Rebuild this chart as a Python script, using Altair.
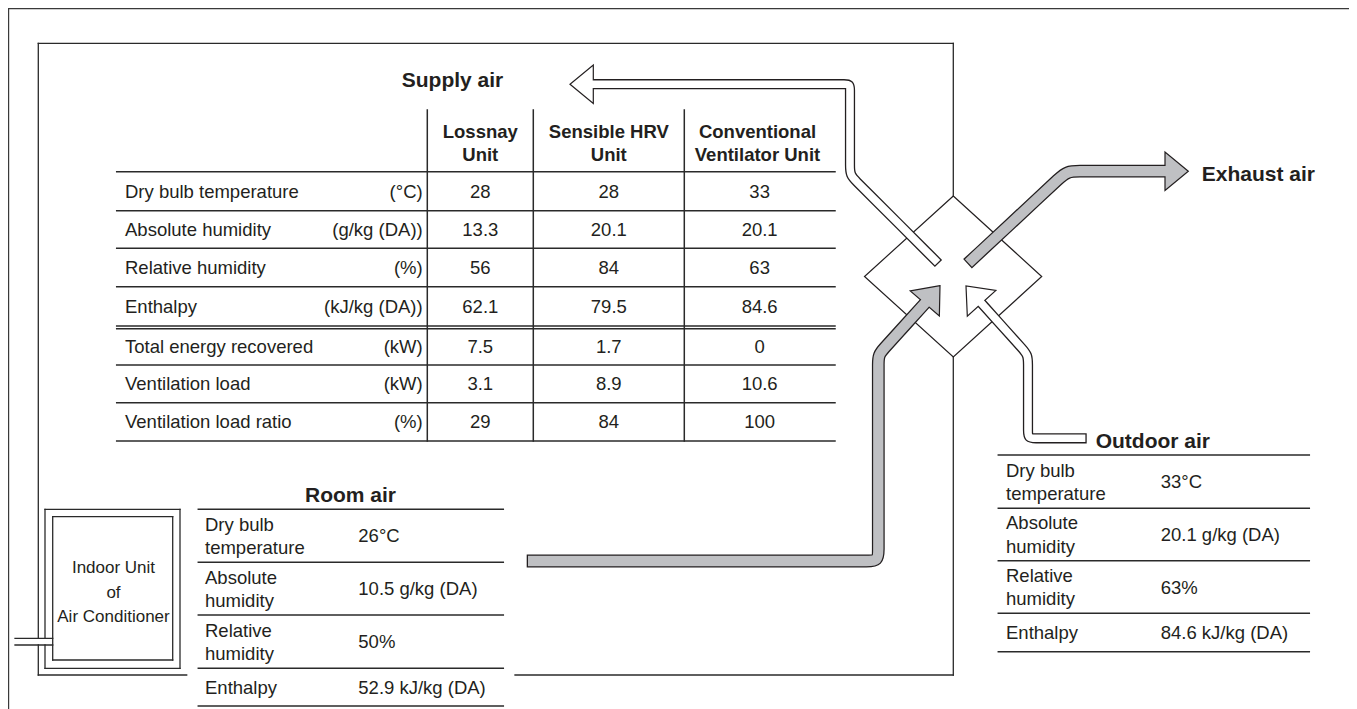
import math
import altair as alt
import pandas as pd

# ---------------- content ----------------
supply_title = "Supply air"
supply_columns = ["Lossnay\nUnit", "Sensible HRV\nUnit", "Conventional\nVentilator Unit"]
supply_rows = ["Dry bulb temperature", "Absolute humidity", "Relative humidity", "Enthalpy",
               "Total energy recovered", "Ventilation load", "Ventilation load ratio"]
supply_units = ["(°C)", "(g/kg (DA))", "(%)", "(kJ/kg (DA))", "(kW)", "(kW)", "(%)"]
lossnay_values = ["28", "13.3", "56", "62.1", "7.5", "3.1", "29"]
sensible_hrv_values = ["28", "20.1", "84", "79.5", "1.7", "8.9", "84"]
conventional_values = ["33", "20.1", "63", "84.6", "0", "10.6", "100"]

room_title = "Room air"
room_labels = ["Dry bulb\ntemperature", "Absolute\nhumidity", "Relative\nhumidity", "Enthalpy"]
room_values = ["26°C", "10.5 g/kg (DA)", "50%", "52.9 kJ/kg (DA)"]

outdoor_title = "Outdoor air"
outdoor_labels = ["Dry bulb\ntemperature", "Absolute\nhumidity", "Relative\nhumidity", "Enthalpy"]
outdoor_values = ["33°C", "20.1 g/kg (DA)", "63%", "84.6 kJ/kg (DA)"]

exhaust_title = "Exhaust air"
indoor_unit_label = "Indoor Unit\nof\nAir Conditioner"

# ---------------- layout (page pixels) ----------------
W, H = 1341, 701
ORG = 8
FONT = "Liberation Sans"
INK = "#231f20"
LINE = "#2a2a2a"
GRAY = "#bfc0c3"

xs = alt.Scale(domain=[ORG, ORG + W], nice=False, zero=False)
ys = alt.Scale(domain=[ORG, ORG + H], nice=False, zero=False, reverse=True)

# supply table
ST_X0, ST_X1 = 116.7, 835.0
ST_COLS = [427.3, 533.3, 684.3]
ST_LINES = [171.7, 210.7, 248.3, 286.7, 326.0, 365.0, 402.7, 441.0]
ST_DOUBLE = 328.7
ST_VTOP = 110.0
# room table
RT_X0, RT_X1 = 198.3, 503.3
RT_LINES = [509.3, 562.3, 615.0, 668.3, 706.0]
RT_LABEL_X, RT_VALUE_X = 205.0, 358.3
# outdoor table
OT_X0, OT_X1 = 998.3, 1309.3
OT_LINES = [455.0, 508.3, 560.7, 613.3, 651.7]
OT_LABEL_X, OT_VALUE_X = 1006.0, 1160.7
# room box
RB_X0, RB_Y0, RB_X1, RB_Y1 = 38.3, 43.3, 953.3, 675.0
# diamond
DIA = [(953.3, 196.0), (1041.7, 276.5), (953.3, 357.0), (864.5, 276.5)]

segs = []
def seg(x, y, x2, y2):
    segs.append(dict(x=x, y=y, x2=x2, y2=y2))

# outer frame (bottom edge is outside the picture)
frame = []
for (x, y, x2, y2) in [(8.6, 8.6, 1350.0, 8.6), (8.6, 8.6, 8.6, 709), (1350.0, 8.6, 1350.0, 709)]:
    frame.append(dict(x=x, y=y, x2=x2, y2=y2))

# room box
seg(RB_X0, RB_Y0, RB_X1, RB_Y0)
seg(RB_X0, RB_Y0, RB_X0, 638.3)
seg(RB_X0, 645.0, RB_X0, RB_Y1)
seg(RB_X1, RB_Y0, RB_X1, DIA[0][1])
seg(RB_X1, DIA[2][1], RB_X1, RB_Y1)
seg(RB_X0, RB_Y1, 186.7, RB_Y1)
seg(515.0, RB_Y1, RB_X1, RB_Y1)
# indoor unit
for (x0, y0, x1, y1) in [(45.0, 509.3, 180.0, 668.3), (52.7, 516.7, 172.7, 660.0)]:
    seg(x0, y0, x1, y0); seg(x0, y1, x1, y1); seg(x1, y0, x1, y1)
    if x0 < 50:
        seg(x0, y0, x0, 638.3); seg(x0, 645.0, x0, y1)
    else:
        seg(x0, y0, x0, y1)
seg(15.0, 638.3, 52.7, 638.3)
seg(15.0, 645.0, 52.7, 645.0)

tseg = []
for yv in ST_LINES + [ST_DOUBLE]:
    tseg.append(dict(x=ST_X0, y=yv, x2=ST_X1, y2=yv))
for xv in ST_COLS:
    tseg.append(dict(x=xv, y=ST_VTOP, x2=xv, y2=ST_LINES[-1]))
for yv in RT_LINES:
    tseg.append(dict(x=RT_X0, y=yv, x2=RT_X1, y2=yv))
for yv in OT_LINES:
    tseg.append(dict(x=OT_X0, y=yv, x2=OT_X1, y2=yv))


def X(f="x"):
    return alt.X(f"{f}:Q", scale=xs, axis=None)


def Y(f="y"):
    return alt.Y(f"{f}:Q", scale=ys, axis=None)


def rule_layer(rows, width, color=LINE):
    return alt.Chart(pd.DataFrame(rows)).mark_rule(strokeWidth=width, color=color, strokeCap="square").encode(
        x=X(), y=Y(), x2="x2:Q", y2="y2:Q")


# ---------------- arrows ----------------
def unit(ax, ay, bx, by):
    dx, dy = bx - ax, by - ay
    L = math.hypot(dx, dy)
    return dx / L, dy / L


def rounded(pts, radii):
    out = [pts[0]]
    for k in range(1, len(pts) - 1):
        (ax, ay), (cx, cy), (bx, by) = pts[k - 1], pts[k], pts[k + 1]
        r = radii[k - 1]
        ux, uy = unit(ax, ay, cx, cy)
        vx, vy = unit(cx, cy, bx, by)
        out += [(cx - 2 * r * ux, cy - 2 * r * uy), (cx - r * ux, cy - r * uy), (cx, cy),
                (cx + r * vx, cy + r * vy), (cx + 2 * r * vx, cy + 2 * r * vy)]
    out.append(pts[-1])
    return out


def trim(pts, tail_cut, head_ext):
    (ax, ay), (bx, by) = pts[0], pts[1]
    ux, uy = unit(ax, ay, bx, by)
    first = (ax + tail_cut * ux, ay + tail_cut * uy)
    (cx, cy), (dx, dy) = pts[-2], pts[-1]
    vx, vy = unit(cx, cy, dx, dy)
    last = (dx + head_ext * vx, dy + head_ext * vy)
    return [first] + pts[1:-1] + [last]


# centre lines, tail -> arrowhead base
supply_path = rounded([(938.5, 263.5), (850.0, 175.0), (850.0, 84.2), (592.7, 84.2)], [10, 6])
outdoor_path = rounded([(1086.7, 438.3), (1028.0, 438.3), (1028.0, 355.0), (980.8, 302.5)], [8, 10])
exhaust_path = rounded([(967.5, 263.8), (1067.0, 171.2), (1165.0, 171.2)], [13])
room_path = rounded([(526.7, 561.0), (878.3, 561.0), (878.3, 354.8), (925.9, 302.2)], [12, 10])

# arrowhead tips and directions
heads_white = [dict(x=570.0, y=84.2, a=180.0), dict(x=966.0, y=286.0, a=228.0)]
heads_gray = [dict(x=1188.3, y=171.2, a=0.0), dict(x=940.0, y=285.7, a=310.7)]
HEAD = "M0,0L-23.3,-19.2L-23.3,19.2Z"


def path_df(paths):
    rows = []
    for pid, pts in enumerate(paths):
        for i, (x, y) in enumerate(pts):
            rows.append(dict(pid=pid, i=i, x=x, y=y))
    return pd.DataFrame(rows)


def path_layer(paths, width, color):
    return alt.Chart(path_df(paths)).mark_line(
        strokeWidth=width, color=color, interpolate="basis", strokeCap="butt", strokeJoin="round"
    ).encode(x=X(), y=Y(), detail="pid:N", order="i:Q")


def head_layer(rows, fill):
    return alt.Chart(pd.DataFrame(rows)).mark_point(
        shape=HEAD, size=4, filled=True, fill=fill, stroke=INK, strokeWidth=1.2, opacity=1,
        fillOpacity=1, strokeJoin="miter"
    ).encode(x=X(), y=Y(), angle=alt.Angle("a:Q", scale=None))


white_paths = [supply_path, outdoor_path]
gray_paths = [exhaust_path, room_path]

outline_white = path_layer(white_paths, 10.2, INK)
outline_gray = path_layer(gray_paths, 12.8, INK)
fill_white = path_layer([trim(p, 1.3, 2.5) for p in white_paths], 7.6, "white")
fill_gray = path_layer([trim(p, 1.3, 2.5) for p in gray_paths], 10.3, GRAY)

diamond_df = pd.DataFrame([dict(i=i, x=p[0], y=p[1]) for i, p in enumerate(DIA + [DIA[0]])])
diamond = alt.Chart(diamond_df).mark_line(strokeWidth=1.2, color=INK, strokeJoin="miter").encode(
    x=X(), y=Y(), order="i:Q")

# ---------------- texts ----------------
row_tops = ST_LINES[:-1].copy()
row_tops[4] = ST_DOUBLE
row_c = [(t + b) / 2 for t, b in zip(row_tops, ST_LINES[1:])]
col_c = [(ST_COLS[0] + ST_COLS[1]) / 2, (ST_COLS[1] + ST_COLS[2]) / 2, (ST_COLS[2] + ST_X1) / 2]
rt_c = [(a + b) / 2 for a, b in zip(RT_LINES[:-1], RT_LINES[1:])]
ot_c = [(a + b) / 2 for a, b in zip(OT_LINES[:-1], OT_LINES[1:])]
DY = 0.6
LH_ROW = 23.3
LH_HEAD = 23.4
LH_UNIT = 24.5


def centred(y, text, lh):
    # Vega puts the first line at y; shift so that the block is centred on y
    n = text.count("\n") + 1
    return y - (n - 1) * lh / 2


t_left = []
t_right = []
t_center = []
for k, lab in enumerate(supply_rows):
    t_left.append(dict(x=125.0, y=row_c[k] + DY, t=lab))
    t_right.append(dict(x=422.7, y=row_c[k] + DY, t=supply_units[k]))
    for c, vals in enumerate([lossnay_values, sensible_hrv_values, conventional_values]):
        t_center.append(dict(x=col_c[c], y=row_c[k] + DY, t=vals[k]))
for k in range(4):
    t_left.append(dict(x=RT_LABEL_X, y=centred(rt_c[k] + DY, room_labels[k], LH_ROW), t=room_labels[k]))
    t_left.append(dict(x=RT_VALUE_X, y=rt_c[k] + DY, t=room_values[k]))
    t_left.append(dict(x=OT_LABEL_X, y=centred(ot_c[k] + DY, outdoor_labels[k], LH_ROW), t=outdoor_labels[k]))
    t_left.append(dict(x=OT_VALUE_X, y=ot_c[k] + DY, t=outdoor_values[k]))

head_x = [col_c[0], col_c[1], 757.5]
headers = [dict(x=head_x[c], y=centred(143.6, supply_columns[c], LH_HEAD), t=supply_columns[c]) for c in range(3)]
titles_c = [dict(x=452.5, y=81.0, t=supply_title), dict(x=350.5, y=495.6, t=room_title)]
titles_l = [dict(x=1095.7, y=442.0, t=outdoor_title), dict(x=1201.7, y=174.6, t=exhaust_title)]
indoor = [dict(x=113.5, y=centred(592.9, indoor_unit_label, LH_UNIT), t=indoor_unit_label)]


def text_layer(rows, size, align, weight="normal", lh=LH_ROW):
    return alt.Chart(pd.DataFrame(rows)).mark_text(
        font=FONT, fontSize=size, fontWeight=weight, align=align, baseline="middle",
        color=INK, lineBreak="\n", lineHeight=lh
    ).encode(x=X(), y=Y(), text="t:N")


chart = alt.layer(
    rule_layer(frame, 1.2, "#3a3a3a"),
    rule_layer(segs, 1.3, LINE),
    rule_layer(tseg, 1.5, LINE),
    diamond,
    outline_white,
    outline_gray,
    head_layer(heads_white, "white"),
    head_layer(heads_gray, GRAY),
    fill_white,
    fill_gray,
    text_layer(t_left, 18.5, "left"),
    text_layer(t_right, 18.5, "right"),
    text_layer(t_center, 18.5, "center"),
    text_layer(headers, 18.5, "center", "bold", LH_HEAD),
    text_layer(titles_c, 21, "center", "bold"),
    text_layer(titles_l, 21, "left", "bold"),
    text_layer(indoor, 17, "center", "normal", LH_UNIT),
).properties(
    width=W, height=H, padding=0, autosize=alt.AutoSizeParams(type="none"), background="white"
).configure_view(stroke=None)

chart.save("out.html", embed_options={"renderer": "svg", "actions": False})
